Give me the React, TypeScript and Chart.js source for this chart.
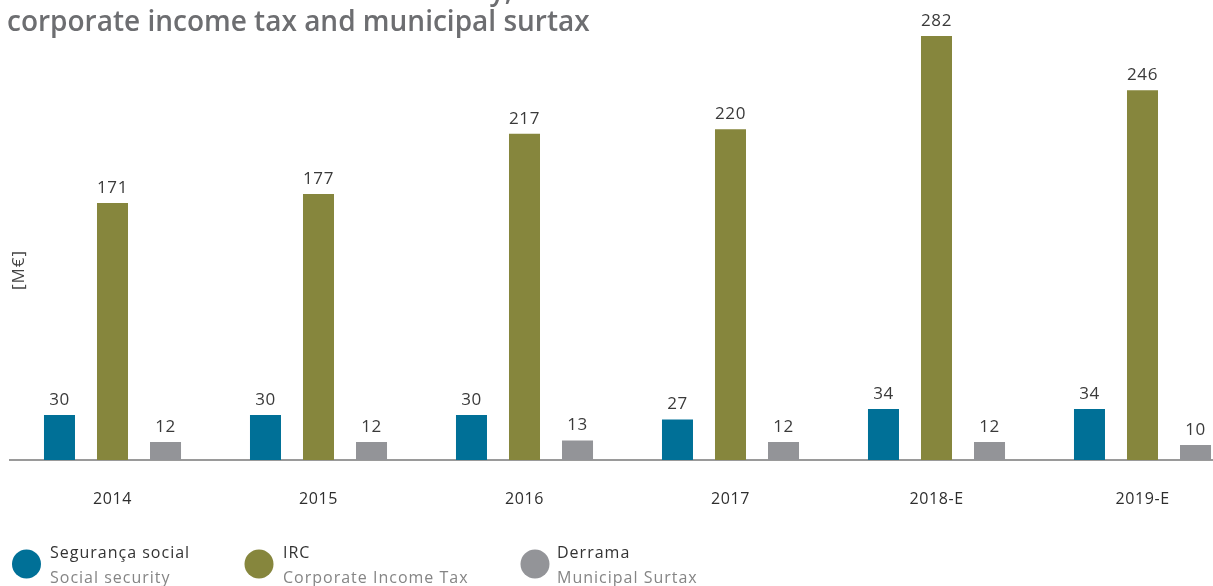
import { useEffect, useRef } from "react";
import { Chart, registerables } from "chart.js";

Chart.register(...registerables);

// Values in millions of euros
const years = ["2014", "2015", "2016", "2017", "2018-E", "2019-E"];
const socialSecurity = [30, 30, 30, 27, 34, 34];
const corporateIncomeTax = [171, 177, 217, 220, 282, 246];
const municipalSurtax = [12, 12, 13, 12, 12, 10];

const seriesNamesPt = ["Segurança social", "IRC", "Derrama"];
const seriesNamesEn = ["Social security", "Corporate Income Tax", "Municipal Surtax"];
const seriesColors = ["#007097", "#86863d", "#939498"];

const titleLines = ["Fiscal contributions to social security,", "corporate income tax and municipal surtax"];
const unitLabel = "[M€]";

const FONT = "'Open Sans', 'Noto Sans', sans-serif";

// Slightly wider lettering for every text drawn on the canvas
const spacing = {
  id: "spacing",
  beforeDraw(chart: any) {
    (chart.ctx as any).letterSpacing = "0.6px";
  },
};

const decorations = {
  id: "decorations",
  afterDraw(chart: any) {
    const ctx = chart.ctx as any;
    ctx.save();

    // Title (two lines, top line runs past the top edge)
    ctx.letterSpacing = "0px";
    ctx.fillStyle = "#6d6e71";
    ctx.font = `600 28px ${FONT}`;
    ctx.textAlign = "left";
    ctx.textBaseline = "alphabetic";
    ctx.fillText(titleLines[0], 7, 0);
    ctx.fillText(titleLines[1], 7, 31);

    // Unit label on the left
    ctx.letterSpacing = "1px";
    ctx.save();
    ctx.translate(19, 270);
    ctx.rotate(-Math.PI / 2);
    ctx.fillStyle = "#444";
    ctx.font = `17px ${FONT}`;
    ctx.textAlign = "center";
    ctx.textBaseline = "middle";
    ctx.fillText(unitLabel, 0, 0);
    ctx.restore();

    // Value labels above the bars
    ctx.letterSpacing = "0.6px";
    ctx.fillStyle = "#3a3a3a";
    ctx.font = `17px ${FONT}`;
    ctx.textAlign = "center";
    ctx.textBaseline = "alphabetic";
    chart.data.datasets.forEach((ds: any, di: number) => {
      const meta = chart.getDatasetMeta(di);
      meta.data.forEach((bar: any, i: number) => {
        ctx.fillText(String(ds.data[i]), bar.x, bar.y - 10);
      });
    });

    // Legend
    const legendX = [26.5, 259, 535];
    const textX = [50, 283, 557];
    ctx.letterSpacing = "1px";
    seriesNamesPt.forEach((name, i) => {
      ctx.fillStyle = seriesColors[i];
      ctx.beginPath();
      ctx.arc(legendX[i], 564, 14.5, 0, Math.PI * 2);
      ctx.fill();
      ctx.textAlign = "left";
      ctx.fillStyle = "#333";
      ctx.font = `16px ${FONT}`;
      ctx.fillText(name, textX[i], 558);
      ctx.fillStyle = "#858585";
      ctx.fillText(seriesNamesEn[i], textX[i], 583);
    });

    ctx.restore();
  },
};

export default function App() {
  const canvasRef = useRef<HTMLCanvasElement | null>(null);

  useEffect(() => {
    if (!canvasRef.current) return;
    const chart = new Chart(canvasRef.current, {
      type: "bar",
      data: {
        labels: years,
        datasets: [
          { label: seriesNamesPt[0], data: socialSecurity, backgroundColor: seriesColors[0] },
          { label: seriesNamesPt[1], data: corporateIncomeTax, backgroundColor: seriesColors[1] },
          { label: seriesNamesPt[2], data: municipalSurtax, backgroundColor: seriesColors[2] },
        ],
      },
      options: {
        responsive: false,
        animation: false,
        devicePixelRatio: 1,
        layout: { padding: { left: 9.5, right: 14.5, top: 9, bottom: 66 } },
        datasets: {
          bar: { barPercentage: 0.585, categoryPercentage: 0.772 },
        },
        plugins: {
          legend: { display: false },
          tooltip: { enabled: false },
          title: { display: false },
        },
        scales: {
          x: {
            grid: { display: false, drawTicks: false },
            border: { display: true, color: "#9a9a9a", width: 2 },
            ticks: {
              color: "#2e2e2e",
              font: { family: FONT, size: 16 },
              padding: 30,
            },
            afterFit(scale: any) {
              scale.height = 60;
            },
          },
          y: {
            display: false,
            min: 0,
            max: 300,
          },
        },
      },
      plugins: [spacing, decorations],
    });
    return () => chart.destroy();
  }, []);

  return (
    <div
      style={{
        position: "fixed",
        left: 0,
        top: 0,
        width: 1213,
        height: 586,
        overflow: "hidden",
        background: "#fff",
      }}
    >
      <canvas ref={canvasRef} width={1260} height={586} style={{ display: "block" }} />
    </div>
  );
}
